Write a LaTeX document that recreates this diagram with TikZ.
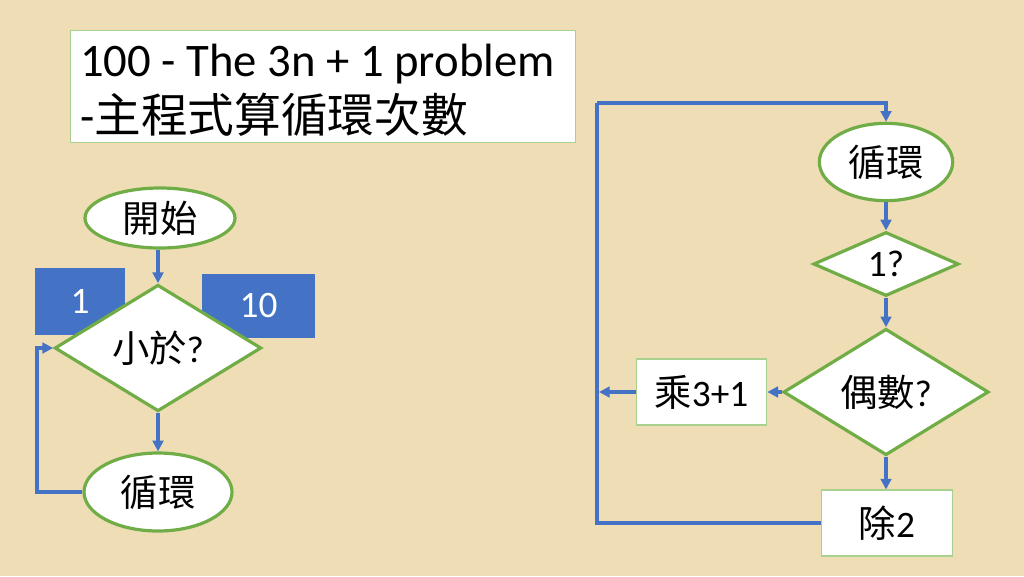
\documentclass[tikz,border=0pt]{standalone}
\usepackage{fontspec}
\setmainfont{Carlito}
\newfontfamily\cjk{Noto Sans CJK TC}
\usepackage{tikz}
\usetikzlibrary{arrows.meta, positioning, shapes.geometric}

\definecolor{parch}{HTML}{EFDDB5}
\definecolor{flowgreen}{HTML}{70AD47}
\definecolor{lightgreen}{HTML}{A9D18E}
\definecolor{flowblue}{HTML}{4472C4}

\begin{document}
\begin{tikzpicture}[
    x=0.75pt, y=-0.75pt,
    every node/.style={font=\fontsize{28pt}{32pt}\selectfont},
    terminal/.style={ellipse, draw=flowgreen, line width=2.4pt, fill=white, inner sep=0pt},
    decision/.style={diamond, draw=flowgreen, line width=2.4pt, fill=white, inner sep=0pt},
    process/.style={rectangle, draw=lightgreen, line width=0.8pt, fill=white, minimum width=98pt, minimum height=49.5pt},
    bound/.style={rectangle, fill=flowblue, text=white, inner sep=0pt},
    flow/.style={draw=flowblue, line width=2.6pt, -{Triangle[length=8pt,width=8pt]}},
    plain/.style={draw=flowblue, line width=2.6pt}
  ]
  \fill[parch] (0,0) rectangle (1024,576);
  \useasboundingbox (0,0) rectangle (1024,576);

  % title
  \node[draw=lightgreen, line width=0.8pt, fill=white, anchor=north west,
        minimum width=379pt, minimum height=84pt] (title) at (70,30) {};
  \node[anchor=west, align=left, inner sep=0pt,
        font=\fontsize{35pt}{42pt}\selectfont] (titletext) at ([xshift=7.5pt,yshift=-3pt]title.west)
    {100 - The 3n + 1 problem\\-{\cjk 主程式算循環次數}};

  % left: main loop
  \node[bound, minimum width=67.5pt, minimum height=50pt] (low) at (80,301.5) {1};
  \node[bound, minimum width=85pt, minimum height=48pt] (high) at (258.5,306) {10};
  \node[terminal, minimum width=112.5pt, minimum height=45pt] (start) at (160,218) {\cjk 開始};
  \node[decision, minimum width=155pt, minimum height=92pt] (less) at (158,348) {{\cjk 小於}?};
  \node[terminal, minimum width=111pt, minimum height=58.5pt] (cycle) at (158,492) {\cjk 循環};
  \coordinate (lc) at (37,492);

  \draw[flow] (start.south -| less.north) -- (less.north);
  \draw[flow] (less) -- (cycle);
  \draw[flow] (cycle.west) -- (lc) |- (less.west);

  % right: cycle length
  \node[terminal, minimum width=100pt, minimum height=58pt] (loop) at (886,162) {\cjk 循環};
  \node[decision, minimum width=109pt, minimum height=48pt] (one) at (886,264) {1?};
  \node[decision, minimum width=154pt, minimum height=94pt] (even) at (886,392) {{\cjk 偶數}?};
  \node[process] (odd) at (701.5,392) {{\cjk 乘}3+1};
  \node[process] (half) at (887,523) {{\cjk 除}2};
  \coordinate (rb) at (597,523);
  \coordinate (rt) at (597,103);
  \coordinate (rm) at (599,392);

  \draw[flow] (rt) -- (rt -| loop.north) -- (loop.north);
  \draw[flow] (loop) -- (one);
  \draw[flow] (one) -- (even);
  \draw[flow] (even) -- (odd);
  \draw[flow] (odd) -- (rm);
  \draw[flow] (even) -- (half.north -| even.south);
  \draw[plain] (half.west) -- (rb) -- (rt);
\end{tikzpicture}
\end{document}
